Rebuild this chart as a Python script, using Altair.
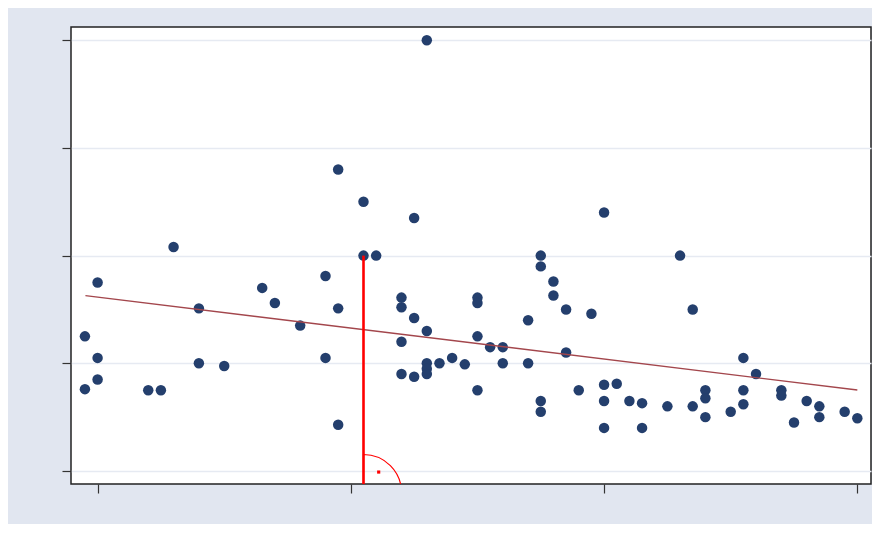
import altair as alt
import pandas as pd

# scatter data (x, y)
x_vals = [0.0, -0.5, 0.0, 0.0, -0.5, 2.0, 2.5, 3.0, 4.0, 4.0,
          5.0, 6.5, 7.0, 8.0, 9.0, 9.0, 9.5, 9.5, 9.5, 10.5,
          10.5, 11.0, 12.0, 12.0, 12.0, 12.0, 12.5, 12.5, 12.5, 13.0,
          13.0, 13.0, 13.0, 13.0, 13.5, 14.0, 14.5, 15.0, 15.0, 15.0,
          15.0, 15.5, 16.0, 16.0, 17.0, 17.0, 17.5, 17.5, 17.5, 17.5,
          18.0, 18.0, 18.5, 18.5, 19.0, 19.5, 20.0, 20.0, 20.0, 20.0,
          20.5, 21.0, 21.5, 21.5, 22.5, 23.0, 23.5, 23.5, 24.0, 24.0,
          24.0, 25.0, 25.5, 25.5, 25.5, 26.0, 27.0, 27.0, 27.5, 28.0,
          28.5, 28.5, 29.5, 30.0]
y_vals = [17.5, 12.5, 10.5, 8.5, 7.6, 7.5, 7.5, 20.8, 15.1, 10.0,
          9.75, 17.0, 15.6, 13.5, 18.1, 10.5, 15.1, 4.3, 28.0, 25.0,
          20.0, 20.0, 16.1, 15.2, 12.0, 9.0, 23.5, 14.2, 8.75, 40.0,
          13.0, 10.0, 9.5, 9.0, 10.0, 10.5, 9.9, 16.1, 15.6, 12.5,
          7.5, 11.5, 11.5, 10.0, 14.0, 10.0, 20.0, 19.0, 6.5, 5.5,
          17.6, 16.3, 15.0, 11.0, 7.5, 14.6, 24.0, 8.0, 6.5, 4.0,
          8.1, 6.5, 6.3, 4.0, 6.0, 20.0, 15.0, 6.0, 7.5, 6.75,
          5.0, 5.5, 10.5, 7.5, 6.2, 9.0, 7.5, 7.0, 4.5, 6.5,
          6.0, 5.0, 5.5, 4.9]

# fitted line end points
fit_x = [-0.48, 30.0]
fit_y = [16.28, 7.52]

# red drop line
drop_x = [10.5]
drop_top = [20.0]

# arc centre and right-angle dot
arc_x = [10.5]
arc_y = [-2.0]
dot_x = [11.1]
dot_y = [-0.1]

x_domain = [-1.05, 30.54]
y_domain = [-1.21, 41.23]
x_ticks = [0, 10, 20, 30]
y_ticks = [0, 10, 20, 30, 40]

pts = pd.DataFrame({"x": x_vals, "y": y_vals})
fit = pd.DataFrame({"x": fit_x, "y": fit_y})
drop = pd.DataFrame({"x": drop_x, "y": drop_top, "y2": [y_domain[0]] * len(drop_x)})
arc = pd.DataFrame({"x": arc_x, "y": arc_y})
dot = pd.DataFrame({"x": dot_x, "y": dot_y})

xscale = alt.Scale(domain=x_domain, nice=False, zero=False)
yscale = alt.Scale(domain=y_domain, nice=False, zero=False)
xaxis = alt.Axis(values=x_ticks, labels=False, title=None, grid=False, domain=False,
                 tickSize=9, tickColor="#333333", tickWidth=1.2)
yaxis = alt.Axis(values=y_ticks, labels=False, title=None, grid=True, gridColor="#e6eaf2",
                 gridWidth=1.3, domain=False, tickSize=9, tickColor="#333333", tickWidth=1.2)


def X():
    return alt.X("x:Q", scale=xscale, axis=xaxis)


def Y():
    return alt.Y("y:Q", scale=yscale, axis=yaxis)


points = alt.Chart(pts).mark_circle(size=110, color="#243f6d", opacity=1).encode(x=X(), y=Y())
line = alt.Chart(fit).mark_line(color="#a3464c", strokeWidth=1.4).encode(x=X(), y=Y())
rule = alt.Chart(drop).mark_rule(color="#ff0000", strokeWidth=2.6).encode(x=X(), y=Y(), y2="y2:Q")
arcm = alt.Chart(arc).mark_arc(radius=38, theta=0, theta2=1.5708, filled=False,
                               color="#ff0000", strokeWidth=1.2, clip=True).encode(x=X(), y=Y())
dotm = alt.Chart(dot).mark_square(size=10, color="#ff0000", opacity=1).encode(x=X(), y=Y())

chart = alt.layer(points, line, rule, arcm, dotm).properties(
    width=800, height=457,
    background="#e1e6f0",
    padding={"left": 63, "top": 19, "right": 1, "bottom": 40},
    autosize=alt.AutoSizeParams(type="none"),
).configure_view(stroke="#222222", strokeWidth=1.5, fill="white")

chart.save("out.html", embed_options={"renderer": "svg", "actions": False})
